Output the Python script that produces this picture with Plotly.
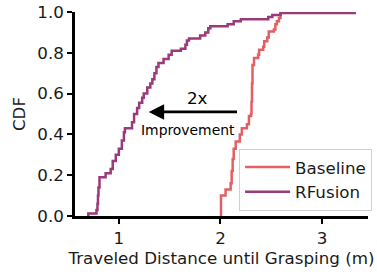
import plotly.graph_objects as go

# RFusion CDF (step points)
rf_x = [0.70, 0.70, 0.78, 0.79, 0.795, 0.80, 0.81, 0.87, 0.92, 0.94, 0.97, 1.00, 1.03, 1.05, 1.06,
        1.13, 1.15, 1.18, 1.20, 1.23, 1.245, 1.28, 1.31, 1.33, 1.35, 1.37, 1.39, 1.44, 1.49,
        1.52, 1.61, 1.655, 1.67, 1.69, 1.80, 1.85, 1.88, 1.90, 2.07, 2.13, 2.20, 2.47, 2.51,
        2.59, 3.32]
rf_y = [0.0, 0.012, 0.03, 0.06, 0.10, 0.14, 0.19, 0.21, 0.23, 0.27, 0.30, 0.33, 0.37, 0.41, 0.43,
        0.46, 0.50, 0.53, 0.555, 0.58, 0.60, 0.63, 0.65, 0.67, 0.70, 0.73, 0.75, 0.77, 0.79,
        0.81, 0.82, 0.84, 0.86, 0.87, 0.885, 0.90, 0.92, 0.93, 0.94, 0.955, 0.965, 0.975, 0.985,
        0.995, 1.0]

# Baseline CDF (step points)
bl_x = [2.005, 2.005, 2.05, 2.10, 2.11, 2.12, 2.13, 2.15, 2.19, 2.21, 2.26, 2.28, 2.30, 2.305,
        2.31, 2.315, 2.33, 2.37, 2.38, 2.42, 2.43, 2.46, 2.475, 2.525, 2.54, 2.555, 2.575, 2.59]
bl_y = [0.0, 0.10, 0.13, 0.16, 0.22, 0.28, 0.33, 0.365, 0.40, 0.43, 0.45, 0.49, 0.50, 0.56,
        0.65, 0.74, 0.775, 0.79, 0.815, 0.83, 0.857, 0.875, 0.905, 0.914, 0.94, 0.955, 0.97, 1.0]

x_ticks = [1, 2, 3]
y_ticks = [0.0, 0.2, 0.4, 0.6, 0.8, 1.0]

RED = "#e45f63"
PURPLE = "#9b3a78"
FS = 16.7

fig = go.Figure()
fig.add_trace(go.Scatter(x=bl_x, y=bl_y, mode="lines", name="Baseline",
                         line=dict(color=RED, width=2.5, shape="hv"), cliponaxis=False))
fig.add_trace(go.Scatter(x=rf_x, y=rf_y, mode="lines", name="RFusion",
                         line=dict(color=PURPLE, width=2.5, shape="hv"), cliponaxis=False))

fig.add_annotation(x=1.294, y=0.51, ax=2.177, ay=0.51, xref="x", yref="y", axref="x", ayref="y",
                   text="", showarrow=True, arrowhead=2, arrowsize=1.1, arrowwidth=2.8,
                   arrowcolor="black")
fig.add_annotation(x=1.77, y=0.58, xref="x", yref="y", text="2x", showarrow=False,
                   font=dict(size=FS, color="black"))
fig.add_annotation(x=1.68, y=0.42, xref="x", yref="y", text="Improvement", showarrow=False,
                   font=dict(size=13.9, color="black"))

fig.update_layout(
    width=377, height=275,
    margin=dict(l=75, r=9, t=12, b=59, autoexpand=False),
    paper_bgcolor="white", plot_bgcolor="white",
    font=dict(family="DejaVu Sans", size=FS, color="#1a1a1a"),
    showlegend=True,
    legend=dict(x=0.56, y=0.33, xanchor="left", yanchor="top",
                bgcolor="rgba(255,255,255,0.8)", bordercolor="#d0d0d0", borderwidth=1,
                font=dict(size=FS), itemwidth=45, tracegroupgap=0),
)
fig.update_xaxes(range=[0.569, 3.451], tickvals=x_ticks, ticktext=[str(v) for v in x_ticks],
                 showgrid=False, zeroline=False, showline=True, linecolor="black", linewidth=2.5,
                 ticks="outside", ticklen=5, tickwidth=1.5, tickcolor="black",
                 tickfont=dict(size=FS),
                 title=dict(text="Traveled Distance until Grasping (m)", standoff=6,
                            font=dict(size=FS)))
fig.update_yaxes(range=[0, 1.0], tickvals=y_ticks, ticktext=[f"{v:.1f}" for v in y_ticks],
                 showgrid=False, zeroline=False, showline=True, linecolor="black", linewidth=2.5,
                 ticks="outside", ticklen=5, tickwidth=1.5, tickcolor="black",
                 tickfont=dict(size=FS),
                 title=dict(text="CDF", standoff=8, font=dict(size=FS)))

fig.write_html("out.html", post_script="document.body.style.margin='0';",
               config={"displayModeBar": False})
